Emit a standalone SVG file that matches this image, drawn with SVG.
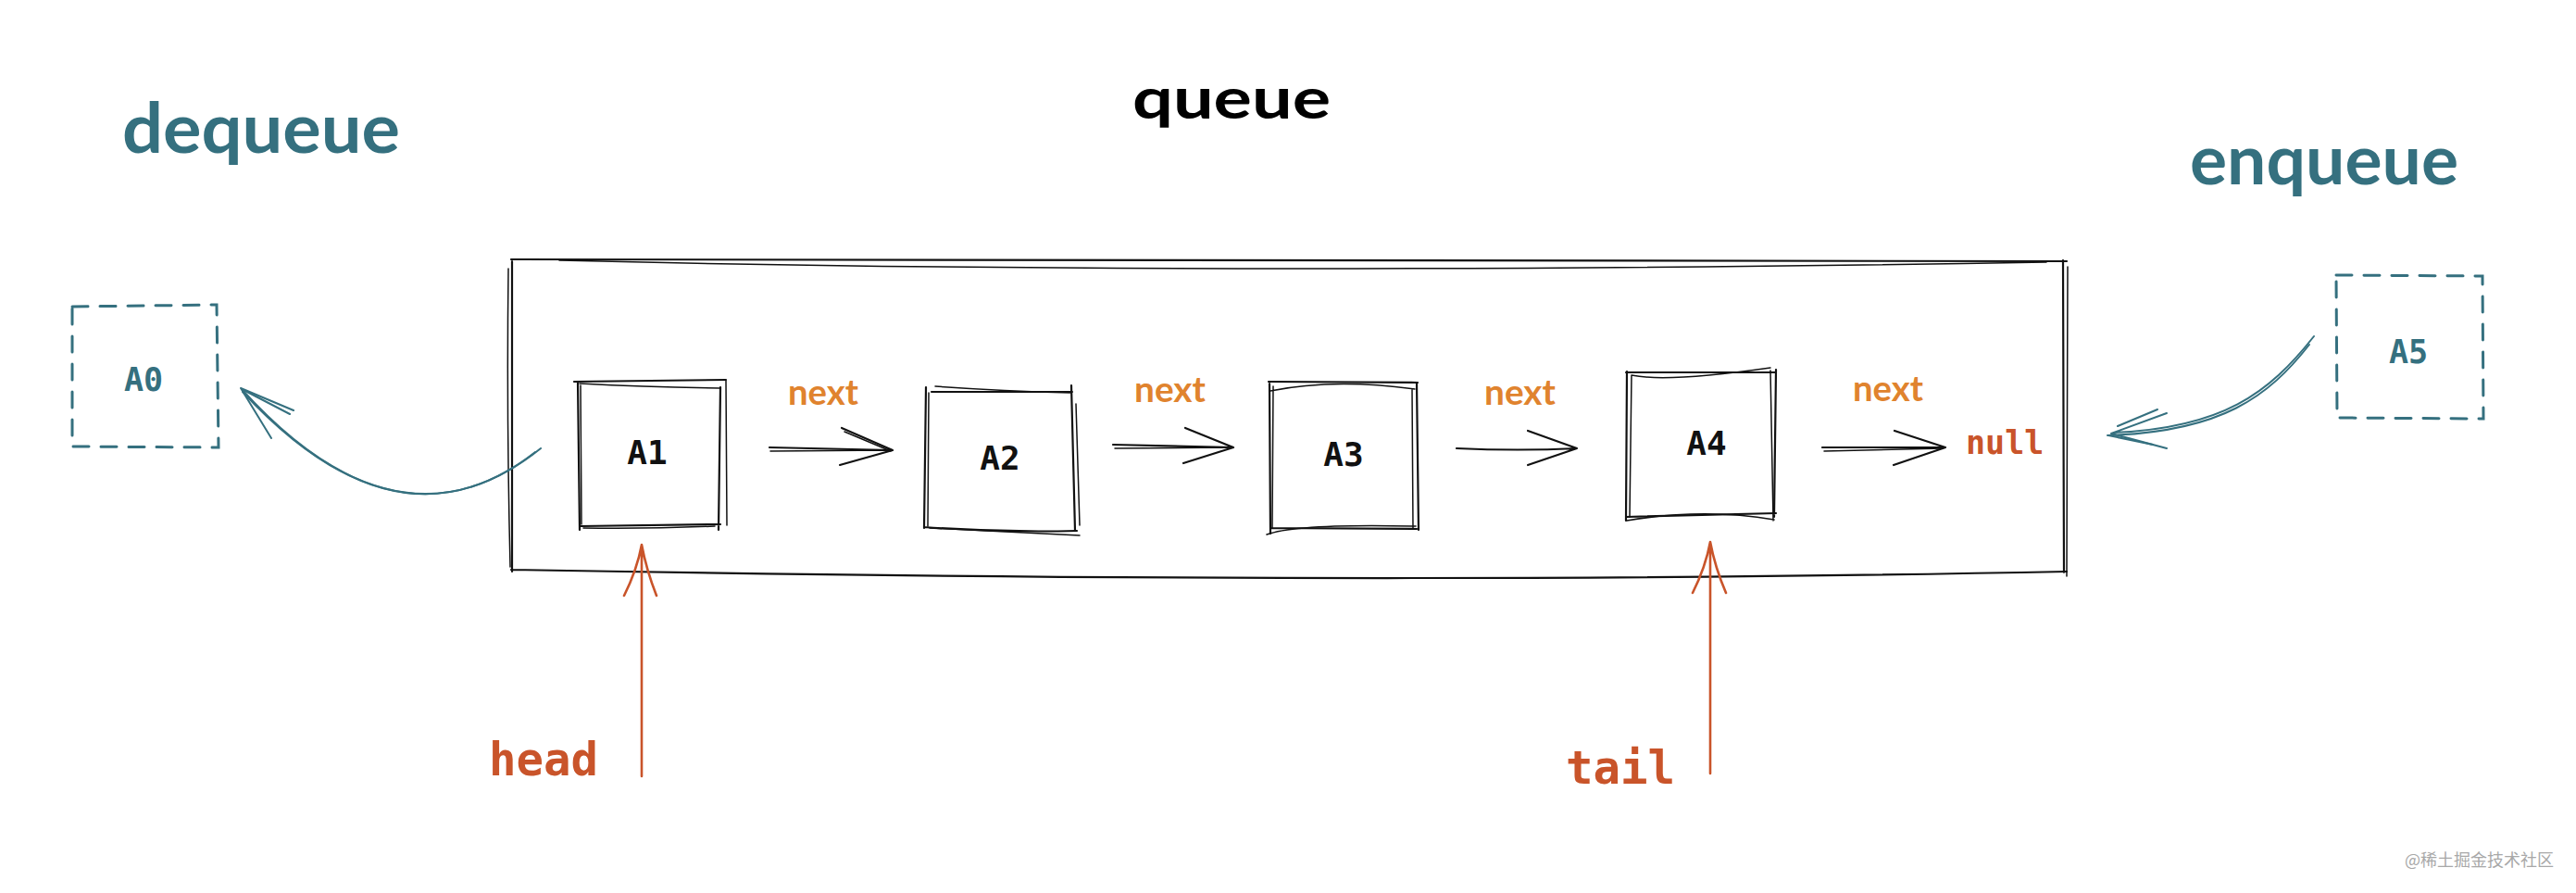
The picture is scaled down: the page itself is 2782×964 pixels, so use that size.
<svg xmlns="http://www.w3.org/2000/svg" width="2782" height="964" viewBox="0 0 2782 964">
<style>
.sk{fill:none;stroke:#111;stroke-width:2.2;stroke-linecap:round;stroke-linejoin:round}
.sk2{fill:none;stroke:#111;stroke-width:1.5;stroke-linecap:round}
.teal{fill:none;stroke:#35707f;stroke-width:2;stroke-linecap:round}
.dash{fill:none;stroke:#35707f;stroke-width:3;stroke-dasharray:17 13;stroke-linecap:round}
.red{fill:none;stroke:#c9542a;stroke-width:2.6;stroke-linecap:round}
.hand{font-family:Lato,"Noto Sans",sans-serif;font-weight:700}
.mono{font-family:"DejaVu Sans Mono","Liberation Mono",monospace;font-weight:700}
.lbl{font-size:36px;fill:#111;text-anchor:middle}
.next{font-size:38px;fill:#e0832e}
</style>
<rect width="2782" height="964" fill="#fff"/>
<g id="title-queue"><text class="hand" x="1223" y="128" font-size="62" textLength="214" lengthAdjust="spacingAndGlyphs" fill="#000">queue</text></g>
<g id="title-dequeue"><text class="hand" x="132" y="165" font-size="74" textLength="300" lengthAdjust="spacingAndGlyphs" fill="#35707f">dequeue</text></g>
<g id="title-enqueue"><text class="hand" x="2365" y="199" font-size="74" textLength="290" lengthAdjust="spacingAndGlyphs" fill="#35707f">enqueue</text></g>
<g id="queue-container">
<path class="sk" d="M552,280 L2232,282 M553,282 L553,617 M2228,281 L2229,618 M552,615 Q1500,632 2232,617"/>
<path class="sk2" d="M604,281 Q1300,298 2210,283 M549,290 Q547,450 551,612 M2233,288 L2232,622"/>
</g>
<g id="node-A0">
<path class="dash" d="M78,331 L234,329 L236,483 L78,482 Z"/>
<text class="mono" x="155" y="422" font-size="35" fill="#35707f" text-anchor="middle">A0</text>
</g>
<g id="node-A1">
<path class="sk" d="M620,412 L784,410 M624,412 L626,572 M778,418 L776,572 M626,568 L778,566"/>
<path class="sk2" d="M626,414 Q700,418 777,419 M627,416 L628,566 M784,411 L785,567 M630,570 Q700,571 772,568"/>
<text class="mono lbl" x="699" y="501">A1</text>
</g>
<g id="node-A2">
<path class="sk" d="M1006,423 L1158,423 M1000,418 L998,570 M1157,416 L1161,573 M998,569 Q1080,575 1163,573"/>
<path class="sk2" d="M1010,417 Q1080,422 1156,424 M1003,424 L1002,568 M1162,436 L1166,567 M1004,570 L1166,578"/>
<text class="mono lbl" x="1080" y="507">A2</text>
</g>
<g id="node-A3">
<path class="sk" d="M1370,412 L1531,413 M1371,414 L1372,576 M1530,413 L1532,572 M1372,570 L1530,571"/>
<path class="sk2" d="M1372,422 Q1440,408 1528,420 M1375,417 L1374,570 M1525,420 L1526,570 M1368,577 Q1400,565 1529,568"/>
<text class="mono lbl" x="1451" y="503">A3</text>
</g>
<g id="node-A4">
<path class="sk" d="M1756,402 L1917,402 M1757,401 L1756,562 M1918,399 L1916,558 M1756,558 L1918,554"/>
<path class="sk2" d="M1762,405 Q1800,413 1912,397 M1762,405 L1760,558 M1912,400 L1915,562 M1757,562 Q1840,548 1916,561"/>
<text class="mono lbl" x="1843" y="491">A4</text>
</g>
<g id="node-null"><text class="mono" x="2123" y="490" font-size="35" fill="#c9542a">null</text></g>
<g id="node-A5">
<path class="dash" d="M2523,297 L2681,298 L2682,452 L2524,451 Z"/>
<text class="mono" x="2601" y="392" font-size="35" fill="#35707f" text-anchor="middle">A5</text>
</g>
<g id="label-head"><text class="mono" x="528" y="837" font-size="49" fill="#c9542a">head</text></g>
<g id="label-tail"><text class="mono" x="1691" y="846" font-size="49" fill="#c9542a">tail</text></g>
<g id="connectors">
<path class="sk" d="M831,483 L964,486 M909,462 L964,486 L907,502"/>
<path class="sk2" d="M832,487 L960,486 M912,466 L962,487"/>
<path class="sk" d="M1202,480 L1332,483 M1280,462 L1332,483 L1278,500"/>
<path class="sk2" d="M1204,484 L1328,483"/>
<path class="sk" d="M1573,484 Q1640,487 1703,484 M1650,465 L1703,484 L1650,502"/>
<path class="sk" d="M1968,483 L2101,483 M2046,465 L2101,483 L2045,502"/>
<path class="sk2" d="M1970,487 L2098,484"/>
<text class="hand next" x="851" y="437" textLength="76" lengthAdjust="spacingAndGlyphs">next</text>
<text class="hand next" x="1225" y="434" textLength="77" lengthAdjust="spacingAndGlyphs">next</text>
<text class="hand next" x="1603" y="437" textLength="77" lengthAdjust="spacingAndGlyphs">next</text>
<text class="hand next" x="2001" y="433" textLength="76" lengthAdjust="spacingAndGlyphs">next</text>
<path class="teal" d="M584,484 Q430,608 260,419 M260,419 L317,443 M260,419 L293,473"/>
<path class="teal" stroke-width="1.4" d="M578,488 Q430,604 262,423 M263,421 L313,447"/>
<path class="teal" d="M2499,363 C2450,425 2400,462 2283,467 M2280,468 L2340,446 M2280,468 L2340,484"/>
<path class="teal" stroke-width="1.4" d="M2494,372 C2450,428 2400,466 2276,470 M2287,460 L2330,442 M2277,470 L2325,480"/>
<path class="red" d="M693,838 L693,588 M693,588 Q688,615 674,643 M693,588 Q698,615 709,643"/>
<path class="red" d="M1847,835 L1847,585 M1847,585 Q1842,612 1828,640 M1847,585 Q1852,612 1864,640"/>
</g>
<text x="2597" y="935" font-family="'Noto Sans CJK SC',sans-serif" font-size="18" fill="#a8a8a8">@稀土掘金技术社区</text>
</svg>
